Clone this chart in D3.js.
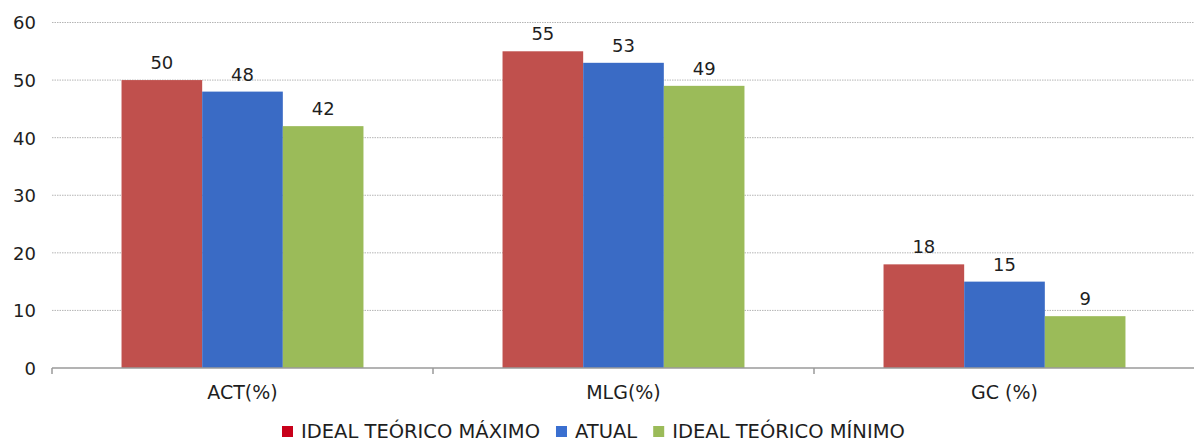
<!DOCTYPE html>
<html>
<head>
<meta charset="utf-8">
<script src="https://cdn.jsdelivr.net/npm/d3@7"></script>
<style>
  body { margin: 0; background: #fff; }
  svg text { font-family: "DejaVu Sans", Verdana, sans-serif; fill: #1e1e1e; }
</style>
</head>
<body>
<div id="chart"></div>
<script>
// data
var categories = ["ACT(%)", "MLG(%)", "GC (%)"];
var seriesNames = ["IDEAL TEÓRICO MÁXIMO", "ATUAL", "IDEAL TEÓRICO MÍNIMO"];
var maximo = [50, 55, 18];
var atual = [48, 53, 15];
var minimo = [42, 49, 9];
var yTicks = [0, 10, 20, 30, 40, 50, 60];

var barColors = ["#c0504d", "#3a6bc5", "#9bbb59"];
var legendColors = ["#c8001a", "#3a6fd0", "#9bbb59"];

var W = 1194, H = 444;
var plotLeft = 52, plotRight = 1195, plotTop = 22.5, plotBottom = 368;

var rows = categories.map(function(c, i) {
  return { cat: c, vals: [maximo[i], atual[i], minimo[i]] };
});

var svg = d3.select("#chart").append("svg")
  .attr("width", W)
  .attr("height", H);

var x0 = d3.scaleBand()
  .domain(categories)
  .range([plotLeft, plotRight])
  .paddingInner(0.365)
  .paddingOuter(0.1825);

var x1 = d3.scaleBand()
  .domain(d3.range(seriesNames.length))
  .range([0, x0.bandwidth()]);

var y = d3.scaleLinear()
  .domain([0, 60])
  .range([plotBottom, plotTop]);

// dotted gridlines
svg.append("g")
  .selectAll("line")
  .data(yTicks.filter(function(d) { return d > 0; }))
  .enter().append("line")
  .attr("x1", plotLeft)
  .attr("x2", W)
  .attr("y1", function(d) { return y(d); })
  .attr("y2", function(d) { return y(d); })
  .attr("stroke", "#b5b5b5")
  .attr("stroke-width", 1)
  .attr("stroke-dasharray", "1.5,1");

// y labels
var yAxis = svg.append("g")
  .attr("transform", "translate(" + (plotLeft - 16) + ",0)")
  .call(d3.axisLeft(y).tickValues(yTicks).tickSize(0).tickPadding(0));
yAxis.select(".domain").remove();
yAxis.selectAll("text")
  .style("font-size", "18px")
  .attr("dy", "0.36em");

// bars
var groups = svg.append("g")
  .selectAll("g")
  .data(rows)
  .enter().append("g")
  .attr("transform", function(d) { return "translate(" + x0(d.cat) + ",0)"; });

groups.selectAll("rect")
  .data(function(d) { return d.vals; })
  .enter().append("rect")
  .attr("x", function(d, i) { return x1(i); })
  .attr("y", function(d) { return y(d); })
  .attr("width", x1.bandwidth())
  .attr("height", function(d) { return y(0) - y(d); })
  .attr("fill", function(d, i) { return barColors[i]; });

groups.selectAll("text")
  .data(function(d) { return d.vals; })
  .enter().append("text")
  .attr("x", function(d, i) { return x1(i) + x1.bandwidth() / 2; })
  .attr("y", function(d) { return y(d) - 11; })
  .attr("text-anchor", "middle")
  .style("font-size", "18px")
  .text(function(d) { return d; });

// x axis line with ticks on the category boundaries
var pad = x0.step() * x0.paddingOuter();
var xAxis = svg.append("g");
xAxis.append("line")
  .attr("x1", plotLeft)
  .attr("x2", W)
  .attr("y1", y(0))
  .attr("y2", y(0))
  .attr("stroke", "#9a9a9a")
  .attr("stroke-width", 1.5);
xAxis.selectAll(".tick")
  .data(categories)
  .enter().append("line")
  .attr("x1", function(d) { return x0(d) - pad; })
  .attr("x2", function(d) { return x0(d) - pad; })
  .attr("y1", y(0))
  .attr("y2", y(0) + 6)
  .attr("stroke", "#9a9a9a")
  .attr("stroke-width", 1.5);
xAxis.selectAll("text")
  .data(categories)
  .enter().append("text")
  .attr("x", function(d) { return x0(d) + x0.bandwidth() / 2; })
  .attr("y", 399)
  .attr("text-anchor", "middle")
  .style("font-size", "19px")
  .text(function(d) { return d; });

// legend
var legend = svg.append("g").attr("transform", "translate(282,438)");
var lx = 0;
seriesNames.forEach(function(name, i) {
  var g = legend.append("g").attr("transform", "translate(" + lx + ",0)");
  g.append("rect")
    .attr("x", 0)
    .attr("y", -12)
    .attr("width", 11)
    .attr("height", 11)
    .attr("fill", legendColors[i]);
  var t = g.append("text")
    .attr("x", 19)
    .attr("y", 0)
    .style("font-size", "19.5px")
    .text(name);
  lx += 19 + t.node().getComputedTextLength() + 16;
});
</script>
</body>
</html>
